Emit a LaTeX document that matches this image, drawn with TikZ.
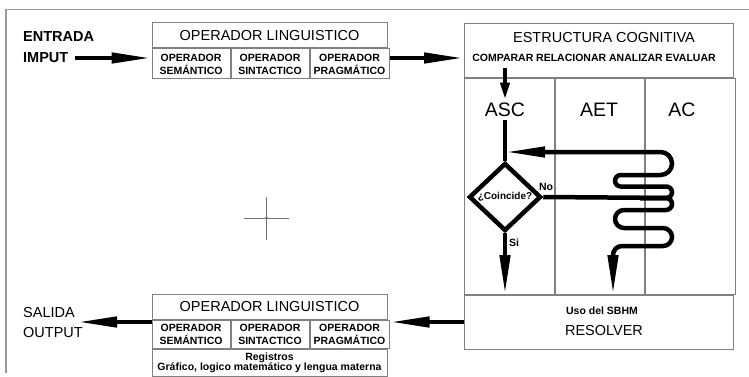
\documentclass[tikz,border=0pt]{standalone}
\usepackage{fontspec}
\setmainfont{Liberation Sans}
\usetikzlibrary{arrows.meta,shapes.geometric}

\tikzset{
  caja/.style={draw=black!50, line width=1pt, inner sep=0pt, align=center},
  flecha/.style={line width=4.5pt, -{Triangle[length=40pt,width=10pt]}},
  linea/.style={line width=4.5pt},
  grande/.style={font=\fontsize{14.5}{17}\selectfont},
  grueso/.style={font=\fontsize{14.5}{17}\selectfont\bfseries},
  chico/.style={font=\fontsize{10.5}{13}\selectfont\bfseries},
  texto/.style={inner sep=0pt}
}

\begin{document}
\begin{tikzpicture}[x=1pt, y=-1pt]
  \useasboundingbox (0,0) rectangle (749,377);
  % marco
  \draw[black!40, line width=1.2pt] (749,9.5) -- (6,9.5) -- (6,373);
  % mira
  \draw[black!55, line width=1pt] (244,218) -- (289,218) (266.5,197) -- (266.5,240);
  \fill[black!55] (266.5,218) circle (1.6);

  % entrada
  \node[texto, grueso, anchor=west] (entrada) at (23,37) {ENTRADA};
  \node[texto, grueso, anchor=west] (imput) at (23,58) {IMPUT};
  \coordinate (inicio) at (75,58);

  % operador linguistico (arriba)
  \node[caja, grande, minimum width=235pt, minimum height=25pt] (lingA) at (269.5,35.5) {OPERADOR LINGUISTICO};
  \node[caja, chico, minimum width=78pt, minimum height=30pt, anchor=north west] (semA) at (lingA.south west) {OPERADOR\\SEMÁNTICO};
  \node[caja, chico, minimum width=78pt, minimum height=30pt, anchor=north west] (sinA) at (semA.north east) {OPERADOR\\SINTACTICO};
  \node[caja, chico, minimum width=79pt, minimum height=30pt, anchor=north west] (praA) at (sinA.north east) {OPERADOR\\PRAGMÁTICO};

  % estructura cognitiva
  \node[caja, minimum width=269pt, minimum height=54pt, anchor=north west] (cabecera) at (464,23) {};
  \node[texto, grande] (estructura) at (604,37.5) {ESTRUCTURA COGNITIVA};
  \node[texto, chico] (acciones) at (594,58) {COMPARAR RELACIONAR ANALIZAR EVALUAR};
  \node[caja, minimum width=90pt, minimum height=216pt, anchor=north west] (colasc) at (cabecera.south west) {};
  \node[caja, minimum width=89pt, minimum height=216pt, anchor=north west] (colaet) at (colasc.north east) {};
  \node[caja, minimum width=90pt, minimum height=216pt, anchor=north west] (colac) at (colaet.north east) {};
  \node[caja, minimum width=269pt, minimum height=54pt, anchor=north west] (resolver) at (colasc.south west) {};
  \node[texto, chico] (uso) at (602,311) {Uso del SBHM};
  \node[texto, grande] (resolverT) at (604,331) {RESOLVER};

  \node[font=\fontsize{19.5}{20}\selectfont] (asc) at (505,110) {ASC};
  \node[font=\fontsize{19.5}{20}\selectfont] (aet) at (599,110) {AET};
  \node[font=\fontsize{19.5}{20}\selectfont] (ac) at (682,110) {AC};

  \node[draw, diamond, line width=4.5pt, minimum width=72pt, minimum height=68pt, inner sep=0pt,
        font=\fontsize{10}{10}\selectfont\bfseries] (test) at (505,197) {¿Coincide?};
  \node[texto, chico] (no) at (546,187) {No};
  \node[texto, chico] (si) at (514,243) {Si};
  \coordinate (vuelta) at (505,152);

  % salida
  \node[texto, grande, anchor=west] (salida) at (23,313) {SALIDA};
  \node[texto, grande, anchor=west] (output) at (23,333) {OUTPUT};
  \coordinate (fin) at (77,322);

  % operador linguistico (abajo)
  \node[caja, grande, minimum width=235pt, minimum height=25pt] (lingB) at (269.5,306.5) {OPERADOR LINGUISTICO};
  \node[caja, chico, minimum width=78pt, minimum height=28pt, anchor=north west] (semB) at (lingB.south west) {OPERADOR\\SEMÁNTICO};
  \node[caja, chico, minimum width=78pt, minimum height=28pt, anchor=north west] (sinB) at (semB.north east) {OPERADOR\\SINTACTICO};
  \node[caja, chico, minimum width=79pt, minimum height=28pt, anchor=north west] (praB) at (sinB.north east) {OPERADOR\\PRAGMÁTICO};
  \node[caja, font=\fontsize{10.5}{10}\selectfont\bfseries, minimum width=235pt, minimum height=27pt, anchor=north west] (registros) at (semB.south west)
    {Registros\\Gráfico, logico matemático y lengua materna};

  % flechas
  \draw[flecha] (inicio) -- (semA.west |- inicio);
  \draw[flecha] (praA.east |- inicio) -- (cabecera.west |- inicio);
  \draw[line width=4pt, -{Triangle[length=17pt,width=9pt]}] (505,68) -- (asc.north);
  \draw[linea] (asc.south) -- (test.north);
  \draw[flecha] (test.south) -- (test.south |- resolver.north);
  \draw[linea] (test.east) -- (672,198);
  \draw[linea, rounded corners=5.75pt] (640,198) -- (672,198) -- (672,186.5) -- (615,186.5) -- (615,175) -- (640,175);
  \draw[flecha, rounded corners=11.5pt] (640,175) -- (672,175) -- (672,152) -- (vuelta);
  \draw[linea, rounded corners=6pt] (640,198) -- (672,198) -- (672,210) -- (640,210);
  \draw[flecha, rounded corners=9pt] (640,210) -- (615,210) -- (615,228) -- (672,228) -- (672,246) -- (613,246) -- (613,246 |- resolver.north);
  \draw[flecha] (resolver.west |- fin) -- (praB.east |- fin);
  \draw[flecha] (lingB.west |- fin) -- (fin);
\end{tikzpicture}
\end{document}
